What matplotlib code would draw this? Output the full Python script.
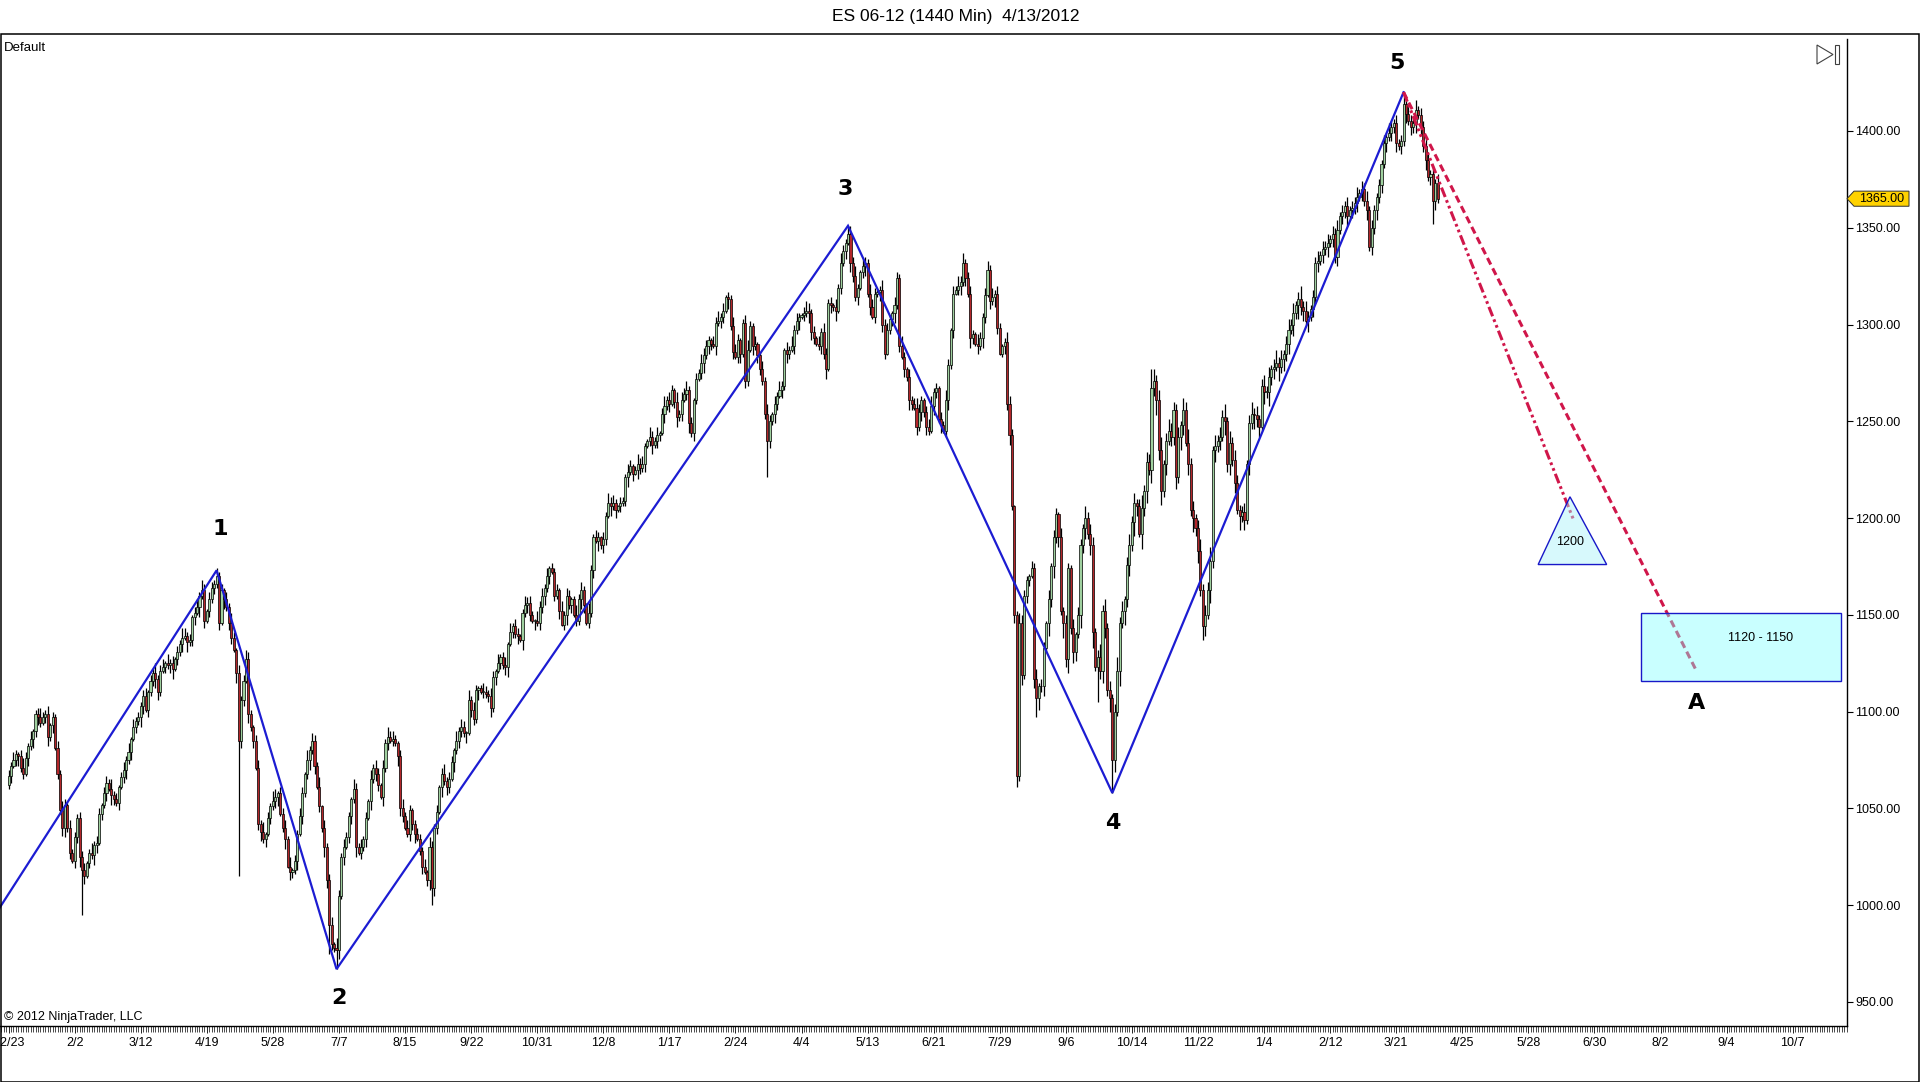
import numpy as np
import matplotlib.pyplot as plt
from matplotlib.patches import Rectangle, Polygon
import matplotlib.transforms as mtransforms

plt.rcParams['font.family'] = ['Liberation Sans', 'DejaVu Sans']

# daily closes, ES 06-12 (back adjusted), one value per bar, 12/23/2009 .. 4/13/2012
closes = [
    1067, 1072, 1075, 1078, 1077, 1071, 1068, 1076, 1082, 1086,
    1090, 1099, 1097, 1094, 1097, 1099, 1087, 1093, 1097, 1081,
    1068, 1049, 1040, 1052, 1040, 1027, 1023, 1035, 1045, 1025,
    1018, 1015, 1022, 1027, 1026, 1031, 1032, 1047, 1052, 1058,
    1063, 1060, 1057, 1055, 1053, 1061, 1066, 1070, 1075, 1079,
    1086, 1092, 1095, 1097, 1103, 1108, 1101, 1110, 1116, 1120,
    1117, 1110, 1121, 1123, 1125, 1124, 1125, 1122, 1127, 1131,
    1135, 1138, 1139, 1136, 1137, 1149, 1151, 1154, 1160, 1163,
    1147, 1152, 1158, 1164, 1166, 1170, 1146, 1163, 1158, 1154,
    1146, 1138, 1132, 1120, 1085, 1106, 1116, 1127, 1099, 1092,
    1085, 1071, 1042, 1038, 1034, 1037, 1045, 1051, 1054, 1056,
    1058, 1047, 1040, 1034, 1020, 1017, 1018, 1023, 1037, 1046,
    1058, 1068, 1075, 1080, 1085, 1072, 1061, 1051, 1040, 1030,
    1013, 990, 980, 978, 977, 1005, 1025, 1030, 1035, 1046,
    1055, 1060, 1030, 1027, 1030, 1034, 1045, 1054, 1065, 1071,
    1068, 1062, 1056, 1071, 1084, 1087, 1085, 1086, 1084, 1077,
    1050, 1046, 1040, 1037, 1049, 1042, 1037, 1034, 1028, 1020,
    1017, 1013, 1030, 1009, 1040, 1048, 1061, 1068, 1064, 1061,
    1065, 1074, 1080, 1085, 1090, 1092, 1089, 1089, 1106, 1101,
    1096, 1111, 1112, 1110, 1110, 1109, 1108, 1102, 1118, 1121,
    1125, 1128, 1124, 1123, 1135, 1141, 1144, 1140, 1139, 1137,
    1151, 1155, 1156, 1150, 1147, 1147, 1146, 1154, 1160, 1164,
    1170, 1174, 1172, 1160, 1163, 1152, 1145, 1150, 1160, 1155,
    1158, 1150, 1147, 1158, 1163, 1155, 1146, 1151, 1173, 1190,
    1188, 1190, 1186, 1189, 1201, 1208, 1206, 1208, 1204, 1206,
    1208, 1209, 1221, 1224, 1227, 1223, 1225, 1228, 1226, 1228,
    1237, 1240, 1242, 1238, 1240, 1243, 1244, 1254, 1258, 1261,
    1259, 1266, 1260, 1252, 1254, 1261, 1264, 1266, 1249, 1244,
    1261, 1272, 1275, 1280, 1284, 1289, 1292, 1290, 1289, 1301,
    1302, 1304, 1307, 1314, 1313, 1299, 1286, 1283, 1292, 1285,
    1301, 1271, 1287, 1299, 1289, 1290, 1284, 1277, 1271, 1254,
    1240, 1250, 1254, 1259, 1263, 1266, 1268, 1287, 1285, 1287,
    1289, 1297, 1302, 1304, 1305, 1306, 1307, 1306, 1296, 1293,
    1290, 1289, 1296, 1285, 1277, 1311, 1310, 1309, 1307, 1319,
    1332, 1338, 1342, 1347, 1332, 1325, 1314, 1319, 1327, 1330,
    1332, 1316, 1309, 1304, 1316, 1317, 1318, 1300, 1285, 1297,
    1303, 1306, 1310, 1324, 1289, 1283, 1277, 1273, 1261, 1259,
    1257, 1247, 1255, 1261, 1255, 1247, 1245, 1258, 1265, 1267,
    1251, 1248, 1245, 1261, 1279, 1297, 1316, 1318, 1320, 1322,
    1332, 1324, 1316, 1293, 1295, 1290, 1289, 1293, 1304, 1315,
    1328, 1312, 1314, 1316, 1298, 1285, 1289, 1291, 1259, 1243,
    1206, 1150, 1067, 1146, 1119, 1160, 1168, 1170, 1174, 1117,
    1107, 1113, 1113, 1133, 1146, 1158, 1175, 1190, 1202, 1190,
    1152, 1146, 1127, 1174, 1143, 1131, 1140, 1150, 1186, 1195,
    1200, 1192, 1186, 1141, 1123, 1128, 1121, 1152, 1143, 1111,
    1107, 1075, 1100, 1121, 1146, 1152, 1158, 1176, 1186, 1198,
    1208, 1206, 1192, 1205, 1214, 1229, 1225, 1267, 1271, 1261,
    1235, 1214, 1228, 1240, 1245, 1242, 1256, 1221, 1242, 1248,
    1256, 1239, 1228, 1204, 1200, 1195, 1183, 1163, 1144, 1150,
    1163, 1178, 1235, 1237, 1240, 1242, 1252, 1250, 1228, 1239,
    1230, 1218, 1204, 1201, 1203, 1199, 1228, 1249, 1254, 1253,
    1251, 1247, 1268, 1265, 1265, 1273, 1277, 1278, 1280, 1278,
    1282, 1285, 1290, 1297, 1300, 1306, 1310, 1313, 1309, 1307,
    1302, 1304, 1308, 1314, 1332, 1333, 1336, 1339, 1340, 1342,
    1344, 1347, 1335, 1349, 1356, 1358, 1361, 1356, 1359, 1360,
    1363, 1366, 1368, 1370, 1364, 1359, 1340, 1350, 1359, 1366,
    1372, 1383, 1394, 1397, 1399, 1402, 1404, 1394, 1392, 1395,
    1414, 1409, 1405, 1402, 1404, 1411, 1408, 1402, 1392, 1385,
    1376, 1378, 1364, 1373, 1365,
]
first_open = 1062

# wick lengths in points above / below the body, one digit per bar
up_wick = (
    "3242135324123532413242531423" "2334125243134252313425142323"
    "4132523415241325423134253143" "2523142531423542134251325413"
    "3425132431524325142341532432" "1532423152431425342135243123"
    "3241532413524315243152431253" "2431523415243125342153424132"
    "3152431253421532431425342132" "2431253421532413524315243523"
    "1325432143524132543124532412" "4253142531425342135423142532"
    "3142532143521432543125342143" "2531423542134523142531425342"
    "3421532413524312543125432143" "5243152431524325143263542473"
    "6352473524635247354263572464" "4352647352463547263547263543"
    "3524635246352473524635247353" "2435243524352435243524352432"
    "3242532423524325243532425323" "4352435243524352434352435243"
    "3242532423524325243532425323"
)
dn_wick = (
    "2413523142534213524132452314" "3524132541324153241352413254"
    "1423542132451324152341524132" "3241524315243152413524132451"
    "2514325142352413254132452413" "4251324152431524132543124351"
    "2413524315243152432514325132" "3524132451324152431524352413"
    "2413524132541324152431524132" "3524153241352431524135241352"
    "4213524315243152413524315243" "2314253142531425132543124351"
    "4251324153241352413254312452" "3142531425342153241352413524"
    "2531425314253124352413524315" "4635274635284736527463582746"
    "5374628374637528463748573625" "4637526374637527463527463527"
    "3526374526374527364526374526" "2435243524352435243524352435"
    "3425243524352435243524352432" "2435243524352435243524352435"
    "3425243524352435243524352432"
)
# notable spikes
spike_lows = {30: 995, 94: 1015, 131: 975, 134: 967, 173: 1000, 310: 1221,
              412: 1061, 420: 1097, 445: 1105, 451: 1058, 488: 1137,
              505: 1194, 582: 1352}
spike_highs = {85: 1174, 343: 1351, 390: 1337, 400: 1333, 467: 1277,
               570: 1420}

# x axis labels, one every 27 bars
tick_step = 27
tick_labels = ['12/23', '2/2', '3/12', '4/19', '5/28', '7/7', '8/15', '9/22',
               '10/31', '12/8', '1/17', '2/24', '4/4', '5/13', '6/21', '7/29',
               '9/6', '10/14', '11/22', '1/4', '2/12', '3/21', '4/25', '5/28',
               '6/30', '8/2', '9/4', '10/7']
price_ticks = [950, 1000, 1050, 1100, 1150, 1200, 1250, 1300, 1350, 1400]

# elliott wave count
wave_idx = [-4, 85, 134, 343, 451, 570]
wave_px = [998, 1173, 967, 1351, 1058, 1420]
wave_names = ['', '1', '2', '3', '4', '5']

# projections from wave 5
proj_dash = (689.7, 1121)
proj_dashdot = (639.5, 1199)
tri_text = '1200'
tri_pts = [(638, 1211), (625, 1176), (653, 1176)]
box_idx = (667, 748.6)
box_px = (1116, 1151)
box_text = '1120 - 1150'
last_price = 1365.00

W, H = 1920, 1082
fig = plt.figure(figsize=(W / 100, H / 100), dpi=100)
ax = fig.add_axes([0, 56 / H, 1847 / W, 987 / H])
ax.set_xlim(-3.51, 751.2)
ax.set_ylim(937.6, 1447.5)

c = np.array(closes, dtype=float)
n = len(c)
x = np.arange(n)
o = np.r_[first_open, c[:-1]]
up = np.array([int(d) for d in up_wick[:n]])
dn = np.array([int(d) for d in dn_wick[:n]])
hi = np.maximum(o, c) + up
lo = np.minimum(o, c) - dn
for k, v in spike_lows.items():
    lo[k] = v
for k, v in spike_highs.items():
    hi[k] = v

ax.vlines(x, lo, hi, color='black', lw=0.9, zorder=2)
body_lo = np.minimum(o, c)
body_h = np.maximum(np.abs(c - o), 0.5)
cols = np.where(c >= o, '#9fd09f', '#b3262a')
ax.bar(x, body_h, bottom=body_lo, width=0.85, color=cols,
       edgecolor='black', linewidth=0.5, zorder=2.5)

# wave lines and labels
ax.plot(wave_idx, wave_px, color='#1c1cd2', lw=1.6, zorder=3,
        solid_joinstyle='miter')
label_dy = [0, 41, -29, 37, -30, 29]
label_dx = [0, 4, 2, -3, 0, -7]
for xi, yi, t, dx, dy in zip(wave_idx, wave_px, wave_names, label_dx, label_dy):
    if t:
        ax.annotate(t, (xi, yi), xytext=(dx, dy), textcoords='offset pixels',
                    ha='center', va='center', fontsize=16, fontweight='bold',
                    family='DejaVu Sans', zorder=5)

red = '#d0164a'
ax.plot([wave_idx[-1], proj_dash[0]], [wave_px[-1], proj_dash[1]],
        color=red, lw=2.2, dashes=(2.4, 1.4), zorder=4)
ax.plot([wave_idx[-1], proj_dashdot[0]], [wave_px[-1], proj_dashdot[1]],
        color=red, lw=2.2, dashes=(3.3, 1.1, 0.9, 1.1, 0.9, 1.1), zorder=4)

ax.add_patch(Polygon(tri_pts, closed=True, facecolor='#a8f2fa', alpha=0.45,
                     edgecolor='none', zorder=4.5))
ax.add_patch(Polygon(tri_pts, closed=True, fill=False, edgecolor='#1818c8',
                     lw=1.0, zorder=4.6))
ax.text(tri_pts[0][0], 1187.5, tri_text, ha='center', va='center',
        fontsize=9, zorder=5)

ax.add_patch(Rectangle((box_idx[0], box_px[0]), box_idx[1] - box_idx[0],
                       box_px[1] - box_px[0], facecolor='#80ffff', alpha=0.42,
                       edgecolor='none', zorder=4.5))
ax.add_patch(Rectangle((box_idx[0], box_px[0]), box_idx[1] - box_idx[0],
                       box_px[1] - box_px[0], fill=False, edgecolor='#1818c8',
                       lw=1.0, zorder=4.6))
ax.text((box_idx[0] + box_idx[1]) / 2 + 8, 1138, box_text,
        ha='center', va='center', fontsize=9, zorder=5)
ax.annotate('A', proj_dash, xytext=(0, -32), textcoords='offset pixels',
            ha='center', va='center', fontsize=16, fontweight='bold',
            family='DejaVu Sans', zorder=5)

# axes styling
for s in ['top', 'left']:
    ax.spines[s].set_visible(False)
for s in ['right', 'bottom']:
    ax.spines[s].set_linewidth(1.0)
ax.yaxis.tick_right()
ax.set_yticks(price_ticks)
ax.set_yticklabels(['%.2f' % p for p in price_ticks])
ax.tick_params(axis='y', length=4, width=0.8, pad=2, labelsize=9)
ax.set_xticks([tick_step * k for k in range(len(tick_labels))])
ax.set_xticklabels(tick_labels)
ax.set_xticks(np.arange(-3, 752), minor=True)
ax.tick_params(axis='x', which='major', length=5, width=0.6, pad=3,
               labelsize=9)
ax.tick_params(axis='x', which='minor', length=4, width=0.5)

# last price marker on the price scale
tr = mtransforms.blended_transform_factory(ax.transAxes, ax.transData)
aw = 1847.0
hh = 3.9
tag = [(1.0, last_price), (1 + 7 / aw, last_price + hh),
       (1 + 62 / aw, last_price + hh), (1 + 62 / aw, last_price - hh),
       (1 + 7 / aw, last_price - hh)]
ax.add_patch(Polygon(tag, closed=True, facecolor='#ffd200', edgecolor='#303030',
                     lw=0.7, transform=tr, clip_on=False, zorder=6))
ax.text(1 + 35 / aw, last_price, '%.2f' % last_price, transform=tr,
        ha='center', va='center', fontsize=9, zorder=7, clip_on=False)

# frame, title and captions
fig.add_artist(Rectangle((0.5 / W, 0.5 / H), (W - 1.2) / W, (H - 34.5) / H,
                         transform=fig.transFigure, fill=False,
                         edgecolor='black', lw=1.1))
fig.text(956 / W, 1 - 17 / H, 'ES 06-12 (1440 Min)  4/13/2012',
         ha='center', va='center', fontsize=12.5)
fig.text(4 / W, 1 - 48 / H, 'Default', ha='left', va='center', fontsize=9.5)
fig.text(4 / W, 1 - 1017 / H, '\u00a9 2012 NinjaTrader, LLC', ha='left',
         va='center', fontsize=9)


def fp(px, py):
    return (px / W, 1 - py / H)


fig.add_artist(Polygon([fp(1817, 45), fp(1817, 64), fp(1833, 54.5)],
                       closed=True, transform=fig.transFigure,
                       facecolor='white', edgecolor='#404040', lw=0.8))
fig.add_artist(Rectangle(fp(1835, 64), 4 / W, 19 / H,
                         transform=fig.transFigure, facecolor='white',
                         edgecolor='#404040', lw=0.8))

fig.savefig('out.png', dpi=100)
